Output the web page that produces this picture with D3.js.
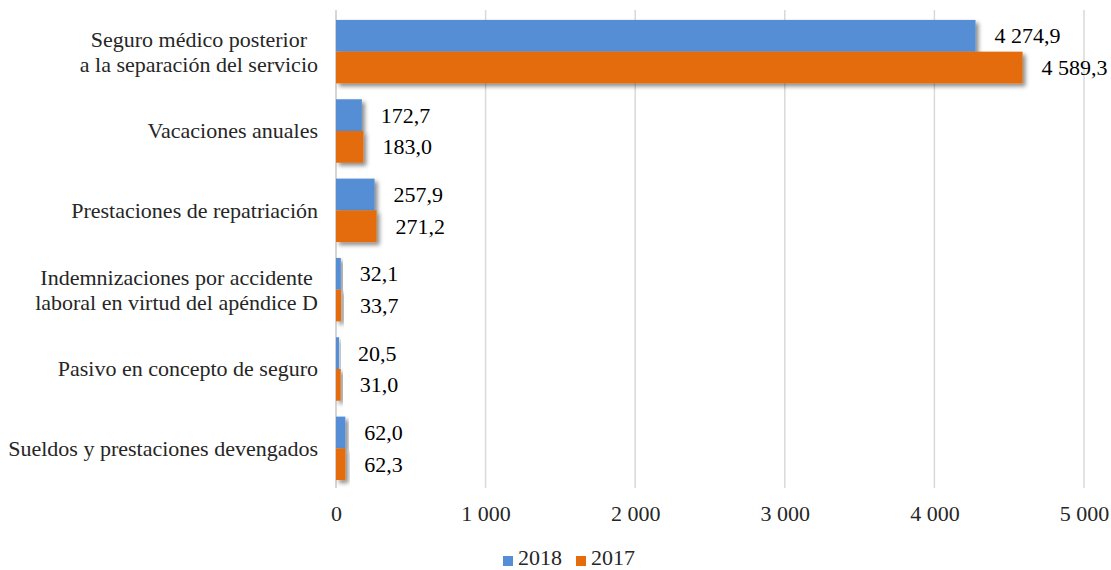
<!DOCTYPE html>
<html>
<head>
<meta charset="utf-8">
<script src="https://cdn.jsdelivr.net/npm/d3@7"></script>
<style>
  html, body { margin: 0; padding: 0; background: #fff; }
  svg text { font-family: "Liberation Serif", "Tinos", "Times New Roman", "DejaVu Serif", serif; }
</style>
</head>
<body>
<svg id="chart" width="1111" height="570" style="display:block"></svg>
<script>
// Categories (top to bottom), each as the lines of its label
const categories = [
  ["Seguro médico posterior", "a la separación del servicio"],
  ["Vacaciones anuales"],
  ["Prestaciones de repatriación"],
  ["Indemnizaciones por accidente", "laboral en virtud del apéndice D"],
  ["Pasivo en concepto de seguro"],
  ["Sueldos y prestaciones devengados"]
];
const seriesNames = ["2018", "2017"];
const values2018 = [4274.9, 172.7, 257.9, 32.1, 20.5, 62.0];
const values2017 = [4589.3, 183.0, 271.2, 33.7, 31.0, 62.3];
const xTicks = [0, 1000, 2000, 3000, 4000, 5000];
const colors = ["#558ed5", "#e46c0a"];

const locale = d3.formatLocale({ decimal: ",", thousands: "\u00a0", grouping: [3], currency: ["", ""] });
const fmtTick = locale.format(",.0f");
const fmtVal = locale.format(",.1f");

const FS = 22;
const svg = d3.select("#chart");
const margin = { left: 336, right: 27, top: 12, bottom: 82 };
const W = 1111, H = 570;
const x = d3.scaleLinear().domain([0, 5000]).range([margin.left, W - margin.right]);
const y0 = d3.scaleBand().domain(d3.range(categories.length)).range([margin.top, H - margin.bottom]).paddingInner(0.2).paddingOuter(0.1);
const y1 = d3.scaleBand().domain(seriesNames).range([0, y0.bandwidth()]);

// Soft drop shadow behind the bars
const defs = svg.append("defs");
const f = defs.append("filter").attr("id", "shadow").attr("x", "-20%").attr("y", "-40%").attr("width", "160%").attr("height", "200%");
f.append("feDropShadow").attr("dx", 3).attr("dy", 3).attr("stdDeviation", 2.2)
  .attr("flood-color", "#000").attr("flood-opacity", 0.45);

// Vertical gridlines
svg.append("g").selectAll("line").data(xTicks.slice(1)).join("line")
  .attr("x1", d => x(d)).attr("x2", d => x(d))
  .attr("y1", margin.top - 2).attr("y2", H - margin.bottom)
  .attr("stroke", "#d9d9d9").attr("stroke-width", 1.5);

// Category axis line
svg.append("line")
  .attr("x1", x(0)).attr("x2", x(0))
  .attr("y1", margin.top - 2).attr("y2", H - margin.bottom)
  .attr("stroke", "#c8c8c8").attr("stroke-width", 1.5);

const series = [values2018, values2017];
const groups = svg.append("g").selectAll("g").data(categories).join("g")
  .attr("transform", (d, i) => `translate(0,${y0(i)})`);

seriesNames.forEach((name, s) => {
  groups.append("rect")
    .attr("x", x(0))
    .attr("y", y1(name))
    .attr("width", (d, i) => x(series[s][i]) - x(0))
    .attr("height", y1.bandwidth())
    .attr("fill", colors[s])
    .attr("filter", "url(#shadow)");
  groups.append("text")
    .attr("x", (d, i) => x(series[s][i]) + 19)
    .attr("y", y1(name) + y1.bandwidth() / 2)
    .attr("dy", "0.34em")
    .attr("font-size", FS)
    .attr("fill", "#000")
    .text((d, i) => fmtVal(series[s][i]));
});

// Category labels: lines centred within a block right-aligned at the axis
const labelRight = 318;
const lh = 25;
groups.each(function (lines) {
  const g = d3.select(this);
  const t = g.append("text").attr("font-size", FS).attr("fill", "#262626").attr("text-anchor", "middle");
  const spans = t.selectAll("tspan").data(lines).join("tspan").text(d => d);
  let maxW = 0;
  spans.each(function () { maxW = Math.max(maxW, this.getComputedTextLength()); });
  const cx = labelRight - maxW / 2;
  const cy = y0.bandwidth() / 2;
  spans.attr("x", cx).attr("y", (d, k) => cy + (k - (lines.length - 1) / 2) * lh).attr("dy", "0.34em");
});

// X axis tick labels
const xAxis = d3.axisBottom(x).tickValues(xTicks).tickFormat(fmtTick).tickSize(0).tickPadding(0);
const ax = svg.append("g").attr("transform", `translate(0,521)`).call(xAxis);
ax.attr("font-family", null).attr("font-size", null);
ax.select(".domain").remove();
ax.selectAll("text").attr("font-size", FS).attr("fill", "#262626").attr("dy", "0");

// Legend
const legend = svg.append("g");
const legX = [503, 576];
seriesNames.forEach((name, s) => {
  legend.append("rect").attr("x", legX[s]).attr("y", 556).attr("width", 10).attr("height", 10).attr("fill", colors[s]);
  legend.append("text").attr("x", legX[s] + 15).attr("y", 565)
    .attr("font-size", FS).attr("fill", "#262626").text(name);
});
</script>
</body>
</html>
